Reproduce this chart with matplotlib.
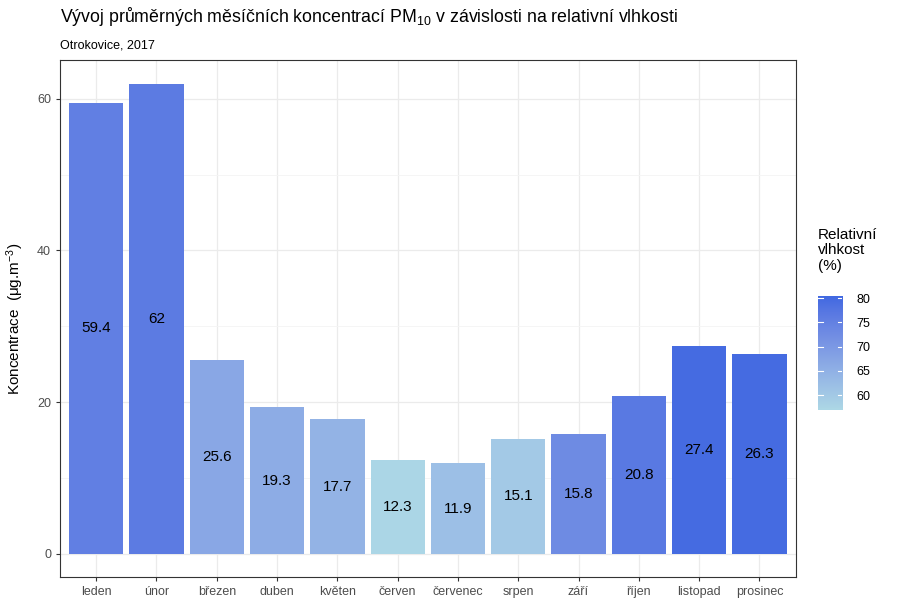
import matplotlib
matplotlib.use("Agg")
import matplotlib.pyplot as plt
import numpy as np
from matplotlib.colors import ListedColormap, Normalize, to_rgb
from matplotlib.ticker import MultipleLocator

plt.rcParams['font.family'] = ['Liberation Sans', 'DejaVu Sans']
plt.rcParams['mathtext.default'] = 'regular'

# data
months = ['leden', 'únor', 'březen', 'duben', 'květen', 'červen',
          'červenec', 'srpen', 'září', 'říjen', 'listopad', 'prosinec']
pm10 = [59.4, 62.0, 25.6, 19.3, 17.7, 12.3, 11.9, 15.1, 15.8, 20.8, 27.4, 26.3]
humidity = [75.5, 76.5, 67.0, 66.0, 64.5, 57.5, 62.0, 60.0, 73.0, 77.0, 80.0, 80.0]


# gradient lightblue -> royalblue, interpolated in Lab like ggplot
def srgb_to_lab(c):
    c = np.asarray(c, float)
    lin = np.where(c <= 0.04045, c / 12.92, ((c + 0.055) / 1.055) ** 2.4)
    m = np.array([[0.4124, 0.3576, 0.1805],
                  [0.2126, 0.7152, 0.0722],
                  [0.0193, 0.1192, 0.9505]])
    xyz = m @ lin / np.array([0.95047, 1.0, 1.08883])
    f = np.where(xyz > 0.008856, np.cbrt(xyz), 7.787 * xyz + 16 / 116)
    return np.array([116 * f[1] - 16, 500 * (f[0] - f[1]), 200 * (f[1] - f[2])])


def lab_to_srgb(lab):
    L, a, b = lab
    fy = (L + 16) / 116
    fx = fy + a / 500
    fz = fy - b / 200
    f = np.array([fx, fy, fz])
    xyz = np.where(f ** 3 > 0.008856, f ** 3, (f - 16 / 116) / 7.787)
    xyz = xyz * np.array([0.95047, 1.0, 1.08883])
    minv = np.array([[3.2406, -1.5372, -0.4986],
                     [-0.9689, 1.8758, 0.0415],
                     [0.0557, -0.2040, 1.0570]])
    lin = minv @ xyz
    c = np.where(lin <= 0.0031308, 12.92 * lin, 1.055 * np.clip(lin, 0, None) ** (1 / 2.4) - 0.055)
    return np.clip(c, 0, 1)


lo = srgb_to_lab(to_rgb('#ADD8E6'))
hi = srgb_to_lab(to_rgb('#4169E1'))
cmap = ListedColormap([lab_to_srgb(lo + (hi - lo) * t) for t in np.linspace(0, 1, 256)])
norm = Normalize(vmin=57.0, vmax=80.5)

fig = plt.figure(figsize=(9, 6), dpi=100)
ax = fig.add_axes([0.0667, 0.038, 0.8173, 0.862])

x = np.arange(len(months))
colors = [cmap(norm(h)) for h in humidity]
ax.bar(x, pm10, width=0.9, color=colors, zorder=2)
for xi, v in zip(x, pm10):
    ax.text(xi, v / 2, f'{v:g}', ha='center', va='center', fontsize=11,
            color='black', zorder=3)

ax.set_xlim(-0.6, len(months) - 0.4)
ax.set_ylim(-3.1, 65.1)
ax.set_xticks(x)
ax.set_xticklabels(months)
ax.yaxis.set_major_locator(MultipleLocator(20))
ax.yaxis.set_minor_locator(MultipleLocator(10))
ax.grid(which='major', color='#EBEBEB', linewidth=0.9, zorder=0)
ax.grid(which='minor', axis='y', color='#F4F4F4', linewidth=0.6, zorder=0)
ax.tick_params(which='minor', length=0)
ax.tick_params(which='major', length=3, color='#333333', labelcolor='#4D4D4D',
               labelsize=9)
for s in ax.spines.values():
    s.set_color('#333333')
    s.set_linewidth(0.8)
ax.set_axisbelow(True)
ax.set_ylabel('Koncentrace  (μg.m$^{-3}$)', fontsize=11, labelpad=8)

fig.text(0.0667, 0.972,
         'Vývoj průměrných měsíčních koncentrací PM$_{10}$ v závislosti na relativní vlhkosti',
         fontsize=12.8, ha='left', va='center')
fig.text(0.0667, 0.925, 'Otrokovice, 2017', fontsize=9, ha='left', va='center')

# colour legend
cax = fig.add_axes([0.909, 0.317, 0.027, 0.19])
grad = np.linspace(norm.vmin, norm.vmax, 200).reshape(-1, 1)
cax.imshow(grad, aspect='auto', cmap=cmap, norm=norm, origin='lower',
           extent=[0, 1, norm.vmin, norm.vmax])
cax.set_xlim(0, 1)
cax.set_ylim(norm.vmin, norm.vmax)
cax.set_xticks([])
ticks = [60, 65, 70, 75, 80]
cax.set_yticks(ticks)
cax.yaxis.tick_right()
cax.tick_params(axis='y', length=0, labelsize=9, labelcolor='black', pad=10)
for t in ticks:
    cax.plot([0, 0.2], [t, t], color='white', lw=0.8)
    cax.plot([0.8, 1], [t, t], color='white', lw=0.8)
for s in cax.spines.values():
    s.set_visible(False)
fig.text(0.909, 0.583, 'Relativní\nvlhkost\n(%)', fontsize=11, ha='left',
         va='center', linespacing=1.15)

fig.savefig('out.png', dpi=100)
